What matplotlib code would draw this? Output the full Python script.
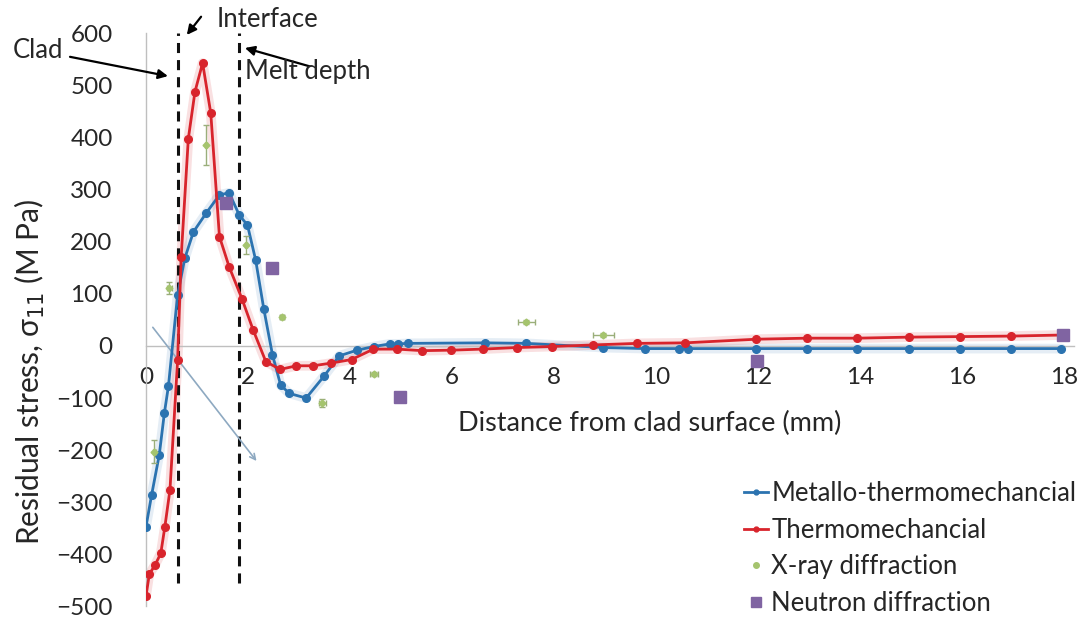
import matplotlib
matplotlib.use("Agg")
import matplotlib.pyplot as plt
from matplotlib.lines import Line2D

plt.rcParams['font.family'] = ['Lato', 'DejaVu Sans']

# ---- data ----
metallo_x = [0, 0.11, 0.26, 0.36, 0.44, 0.62, 0.76, 0.93, 1.18, 1.44, 1.63, 1.83, 1.99, 2.15,
             2.31, 2.48, 2.64, 2.81, 3.14, 3.49, 3.79, 4.14, 4.47, 4.78, 4.95, 5.14, 6.65,
             7.46, 8.97, 9.78, 10.46, 10.63, 11.97, 12.97, 13.95, 14.97, 15.96, 16.97, 17.95]
metallo_y = [-347, -286, -209, -129, -77, 98, 168, 219, 255, 290, 294, 251, 232, 165,
             71, -17, -75, -91, -100, -58, -19, -8, -1, 4, 4, 5, 6,
             5, -3, -5, -5, -5, -5, -5, -5, -5, -5, -5, -5]

thermo_x = [0, 0.065, 0.18, 0.29, 0.37, 0.47, 0.62, 0.69, 0.83, 0.96, 1.11, 1.27, 1.44, 1.63,
            1.88, 2.10, 2.35, 2.63, 2.95, 3.28, 3.62, 4.03, 4.46, 4.92, 5.42, 5.99, 6.6,
            7.27, 7.97, 8.77, 9.63, 10.57, 11.97, 12.97, 13.95, 14.97, 15.96, 16.97, 17.95]
thermo_y = [-480, -438, -420, -398, -347, -276, -27, 171, 398, 488, 543, 447, 210, 152,
            91, 31, -30, -45, -38, -38, -33, -26, -6, -6, -9, -8, -6,
            -3, -1, 2, 5, 6, 13, 15, 15, 17, 18, 19, 21]

xray_x = [0.16, 0.46, 1.18, 1.96, 2.66, 3.46, 4.47, 7.46, 8.97]
xray_y = [-203, 111, 386, 194, 56, -110, -54, 46, 21]
xray_yerr = [22, 12, 38, 18, 4, 8, 4, 3, 3]
xray_xerr = [0.03, 0.04, 0.02, 0.02, 0.04, 0.06, 0.07, 0.17, 0.2]

neutron_x = [1.57, 2.48, 4.98, 11.98, 17.98]
neutron_y = [274, 149, -97, -29, 21]

interface_x = 0.63
melt_x = 1.83

xticks = list(range(0, 19, 2))
yticks = list(range(-500, 601, 100))

# ---- colours ----
BLUE = '#2B73B0'
RED = '#D8242C'
GREEN = '#A5C46E'
PURPLE = '#8064A2'
AXIS = '#BFBFBF'
TXT = '#262626'

fig = plt.figure(figsize=(10.86, 6.20), dpi=100)
L, W = 146 / 1086, 18.4 * 51 / 1086
B, H = (620 - 616.9) / 620, 1140 * 0.521 / 620
ax = fig.add_axes([L, B, W, H])
ax.set_xlim(0, 18.4)
ax.set_ylim(-520, 620)

for s in ['top', 'right']:
    ax.spines[s].set_visible(False)
ax.spines['left'].set_position(('data', 0))
ax.spines['left'].set_bounds(-500, 600)
ax.spines['left'].set_color(AXIS)
ax.spines['bottom'].set_position(('data', 0))
ax.spines['bottom'].set_bounds(0, 18.2)
ax.spines['bottom'].set_color(AXIS)
ax.spines['left'].set_linewidth(1.0)
ax.spines['bottom'].set_linewidth(1.0)

ax.set_xticks(xticks)
ax.set_yticks(yticks)
ax.tick_params(axis='x', length=0, pad=15, labelsize=17.5, labelcolor=TXT)
ax.tick_params(axis='y', length=0, pad=24, labelsize=17.5, labelcolor=TXT)
ax.patch.set_alpha(0)

# glow
ax.plot(metallo_x, metallo_y, color=BLUE, lw=7, alpha=0.12, solid_capstyle='round', zorder=2)
ax.plot(thermo_x, thermo_y, color=RED, lw=7, alpha=0.14, solid_capstyle='round', zorder=2)

ax.plot(metallo_x, metallo_y, color=BLUE, lw=2.0, marker='o', ms=5.5, zorder=4,
        label='Metallo-thermomechancial')
ax.plot(thermo_x, thermo_y, color=RED, lw=2.0, marker='o', ms=5.5, zorder=5,
        label='Thermomechancial')

ax.errorbar(xray_x, xray_y, yerr=xray_yerr, xerr=xray_xerr, fmt='D', color=GREEN,
            ms=3.5, ecolor='#9AAE7A', elinewidth=1.0, capsize=2.5, zorder=6,
            label='X-ray diffraction')
ax.plot(neutron_x, neutron_y, ls='none', marker='s', ms=8.5, color=PURPLE, zorder=6,
        label='Neutron diffraction')

# dashed lines
for xv in (interface_x, melt_x):
    ax.plot([xv, xv], [-455, 600], color='#111111', lw=2.2, dashes=(3.3, 2.3), zorder=3,
            clip_on=False)

# diagonal arrow
ax.annotate('', xy=(2.2, -225), xytext=(0.1, 40),
            arrowprops=dict(arrowstyle='->', color='#8EA9C1', lw=1.2), zorder=3)

# annotations
FS = 18.5
akw = dict(arrowstyle='-|>', color='black', lw=1.6, mutation_scale=14, shrinkA=0, shrinkB=0)
ax.text(-2.62, 568, 'Clad', fontsize=FS, color=TXT, ha='left', va='center')
ax.annotate('', xy=(0.43, 518), xytext=(-1.49, 555), arrowprops=akw, annotation_clip=False)
ax.annotate('', xy=(0.80, 597), xytext=(1.08, 632), arrowprops=akw, annotation_clip=False)
ax.text(1.39, 626, 'Interface', fontsize=FS, color=TXT, ha='left', va='center')
ax.annotate('', xy=(1.94, 572), xytext=(3.20, 537), arrowprops=akw, annotation_clip=False)
ax.text(1.94, 527, 'Melt depth', fontsize=FS, color=TXT, ha='left', va='center')

fig.text(650 / 1086, 1 - 423 / 620, 'Distance from clad surface (mm)', fontsize=19.5,
         color=TXT, ha='center', va='center')
fig.text(30 / 1086, 1 - 372 / 620, r'Residual stress, σ$_{11}$ (M Pa)', fontsize=21.5,
         color=TXT, ha='center', va='center', rotation=90)

handles = [
    Line2D([], [], color=BLUE, lw=2.0, marker='o', ms=3.5),
    Line2D([], [], color=RED, lw=2.0, marker='o', ms=3.5),
    Line2D([], [], color=GREEN, ls='none', marker='o', ms=4),
    Line2D([], [], color=PURPLE, ls='none', marker='s', ms=7),
]
labels = ['Metallo-thermomechancial', 'Thermomechancial', 'X-ray diffraction',
          'Neutron diffraction']
fig.legend(handles, labels, loc='upper left', bbox_to_anchor=(744 / 1086, 1 - 481 / 620),
           frameon=False, fontsize=18.5, handlelength=0.95, handletextpad=0.12,
           labelspacing=0.45, borderpad=0, borderaxespad=0, labelcolor=TXT)

fig.savefig('out.png', dpi=100)
